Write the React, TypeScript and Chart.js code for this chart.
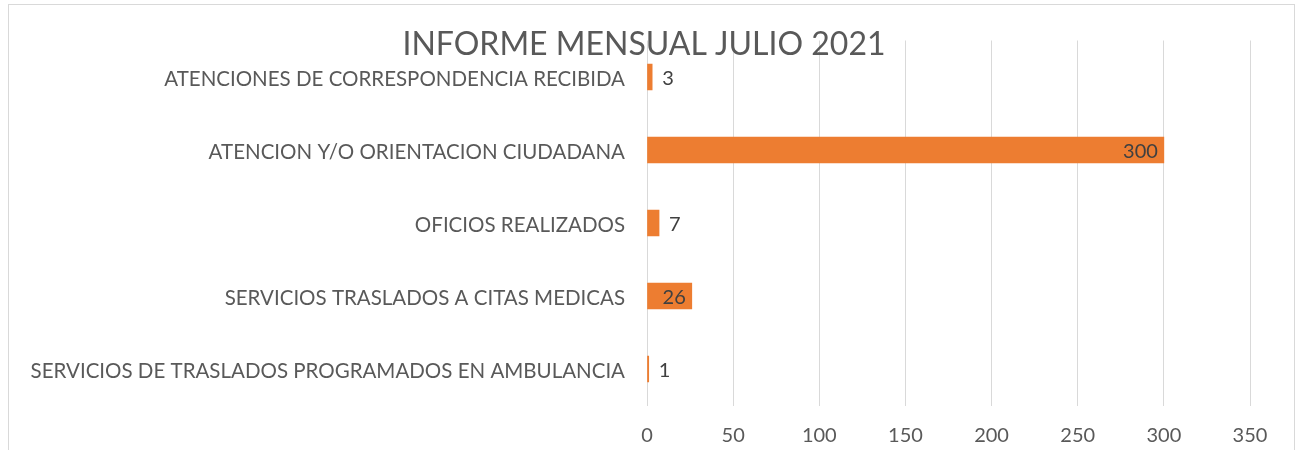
import React, { useEffect, useRef } from "react";
import { Chart, registerables } from "chart.js";

Chart.register(...registerables);

const chartTitle = "INFORME MENSUAL JULIO 2021";
const categories = [
  "ATENCIONES DE CORRESPONDENCIA RECIBIDA",
  "ATENCION Y/O ORIENTACION CIUDADANA",
  "OFICIOS REALIZADOS",
  "SERVICIOS TRASLADOS A CITAS MEDICAS",
  "SERVICIOS DE TRASLADOS PROGRAMADOS EN AMBULANCIA",
];
const values = [3, 300, 7, 26, 1];
const axisMin = 0;
const axisMax = 350;
const axisStep = 50;

const FONT = "Lato";
const BAR_COLOR = "#ED7D31";
const TEXT_COLOR = "#595959";
const LABEL_COLOR = "#404040";
const GRID_COLOR = "#d9d9d9";

const titlePlugin = {
  id: "overlayTitle",
  afterDraw(chart: any) {
    const ctx = chart.ctx;
    ctx.save();
    ctx.font = `32px ${FONT}`;
    ctx.fillStyle = TEXT_COLOR;
    ctx.textAlign = "center";
    ctx.textBaseline = "middle";
    ctx.fillText(chartTitle, 635, 40);
    ctx.restore();
  },
};

const valueLabelPlugin = {
  id: "valueLabels",
  afterDatasetsDraw(chart: any) {
    const ctx = chart.ctx;
    const meta = chart.getDatasetMeta(0);
    ctx.save();
    ctx.font = `20px ${FONT}`;
    ctx.fillStyle = LABEL_COLOR;
    ctx.textBaseline = "middle";
    meta.data.forEach((bar: any, i: number) => {
      const text = String(values[i]);
      const w = ctx.measureText(text).width;
      const len = bar.x - bar.base;
      if (w + 12 <= len) {
        ctx.textAlign = "right";
        ctx.fillText(text, bar.x - 6, bar.y + 2);
      } else {
        ctx.textAlign = "left";
        ctx.fillText(text, bar.x + 10, bar.y + 2);
      }
    });
    ctx.restore();
  },
};

export default function App() {
  const canvasRef = useRef<HTMLCanvasElement | null>(null);

  useEffect(() => {
    if (!canvasRef.current) return;
    const chart = new Chart(canvasRef.current, {
      type: "bar",
      data: {
        labels: categories,
        datasets: [
          {
            data: values,
            backgroundColor: BAR_COLOR,
            borderWidth: 0,
            barThickness: 26,
          },
        ],
      },
      options: {
        indexAxis: "y",
        animation: false,
        responsive: true,
        maintainAspectRatio: false,
        layout: { padding: { top: 35.5, right: 44, bottom: 0, left: 0 } },
        plugins: {
          legend: { display: false },
          title: { display: false },
          tooltip: { enabled: false },
        },
        scales: {
          x: {
            min: axisMin,
            max: axisMax,
            ticks: {
              stepSize: axisStep,
              font: { family: FONT, size: 20 },
              color: TEXT_COLOR,
              padding: 18,
            },
            grid: { color: GRID_COLOR, lineWidth: 1, drawTicks: false },
            border: { display: false },
            afterFit(scale: any) {
              scale.height = 44.5;
            },
          },
          y: {
            ticks: {
              font: { family: FONT, size: 20.5 },
              color: TEXT_COLOR,
              padding: 22,
              labelOffset: 2,
            },
            grid: { display: false, drawTicks: false },
            border: { display: false },
            afterFit(scale: any) {
              scale.width = 638;
            },
          },
        },
      },
      plugins: [titlePlugin, valueLabelPlugin],
    });
    return () => chart.destroy();
  }, []);

  return (
    <div
      style={{
        position: "absolute",
        left: 8,
        top: 4,
        width: 1287,
        height: 446,
        boxSizing: "border-box",
        border: "1px solid #d9d9d9",
        borderBottom: "none",
        background: "#fff",
      }}
    >
      <div style={{ position: "relative", width: 1285, height: 445 }}>
        <canvas ref={canvasRef} />
      </div>
    </div>
  );
}
